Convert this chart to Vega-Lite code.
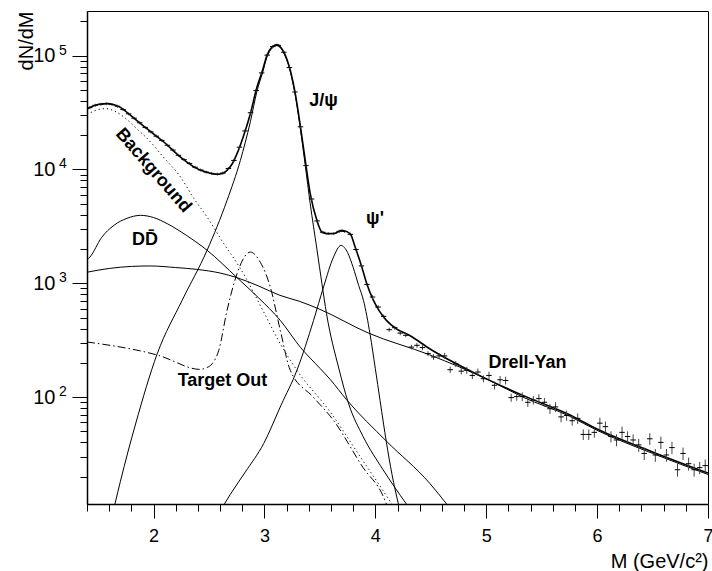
{
  "$schema": "https://vega.github.io/schema/vega-lite/v6.json",
  "width": 621,
  "height": 493,
  "autosize": "none",
  "padding": {"left": 87, "top": 11, "right": 4, "bottom": 67},
  "background": "white",
  "config": {
    "font": "Liberation Sans",
    "view": {"stroke": "black", "strokeWidth": 1},
    "axis": {"grid": false, "domainColor": "black", "domainWidth": 1.5, "tickColor": "black", "tickWidth": 1, "labelColor": "black", "titleColor": "black", "titleFontWeight": "normal", "labelOverlap": false, "labelFlush": false}
  },
  "datasets": {
    "total": [
      {"x":1.4,"y":34000},{"x":1.45,"y":35970},{"x":1.5,"y":37150},{"x":1.58,"y":37840},{"x":1.65,"y":36810},{"x":1.7,"y":35080},{"x":1.793,"y":29850},{"x":1.94,"y":22800},{"x":2.093,"y":17420},{"x":2.243,"y":12850},{"x":2.393,"y":10160},{"x":2.48,"y":9440},{"x":2.56,"y":9060},{"x":2.62,"y":9230},{"x":2.66,"y":9770},{"x":2.71,"y":11220},{"x":2.753,"y":13770},{"x":2.81,"y":19500},{"x":2.873,"y":30900},{"x":2.933,"y":53000},{"x":2.983,"y":74300},{"x":3.023,"y":100700},{"x":3.068,"y":119100},{"x":3.113,"y":125000},{"x":3.15,"y":117500},{"x":3.173,"y":108400},{"x":3.233,"y":74300},{"x":3.278,"y":46300},{"x":3.323,"y":24400},{"x":3.368,"y":12000},{"x":3.413,"y":6120},{"x":3.473,"y":3570},{"x":3.518,"y":2820},{"x":3.563,"y":2730},{"x":3.623,"y":2730},{"x":3.698,"y":2920},{"x":3.773,"y":2730},{"x":3.818,"y":2080},{"x":3.878,"y":1390},{"x":3.923,"y":990},{"x":3.983,"y":708},{"x":4.043,"y":558},{"x":4.1,"y":472},{"x":4.19,"y":398},{"x":4.31,"y":348},{"x":4.49,"y":266},{"x":4.91,"y":160},{"x":5.33,"y":103.5},{"x":5.75,"y":70},{"x":6.0,"y":52.5},{"x":6.5,"y":33},{"x":7.0,"y":21.5}
    ],
    "bg": [
      {"x":1.4,"y":30400},{"x":1.5,"y":33500},{"x":1.568,"y":34200},{"x":1.65,"y":32500},{"x":1.748,"y":28100},{"x":1.85,"y":22700},{"x":1.943,"y":18700},{"x":2.09,"y":12800},{"x":2.243,"y":8580},{"x":2.363,"y":5570},{"x":2.483,"y":3820},{"x":2.633,"y":2230},{"x":2.783,"y":1350},{"x":2.993,"y":560},{"x":3.143,"y":294},{"x":3.293,"y":172},{"x":3.593,"y":74},{"x":3.863,"y":30},{"x":4.043,"y":16.5},{"x":4.148,"y":11.5}
    ],
    "dd": [
      {"x":1.4,"y":1600},{"x":1.427,"y":1700},{"x":1.53,"y":2510},{"x":1.643,"y":3230},{"x":1.76,"y":3720},{"x":1.883,"y":3950},{"x":2.0,"y":3780},{"x":2.123,"y":3340},{"x":2.3,"y":2620},{"x":2.483,"y":1950},{"x":2.753,"y":1120},{"x":2.95,"y":740},{"x":3.143,"y":472},{"x":3.323,"y":275},{"x":3.503,"y":178},{"x":3.593,"y":143},{"x":3.74,"y":95},{"x":4.1,"y":41},{"x":4.49,"y":17.5},{"x":4.643,"y":11.5}
    ],
    "dy": [
      {"x":1.4,"y":1250},{"x":1.6,"y":1349},{"x":1.8,"y":1406},{"x":1.97,"y":1419},{"x":2.2,"y":1374},{"x":2.39,"y":1324},{"x":2.6,"y":1230},{"x":2.75,"y":1122},{"x":2.95,"y":944},{"x":3.14,"y":783},{"x":3.32,"y":692},{"x":3.5,"y":590},{"x":3.935,"y":366},{"x":4.49,"y":235},{"x":5.03,"y":140},{"x":5.33,"y":100},{"x":5.75,"y":68},{"x":6.0,"y":51},{"x":6.5,"y":32},{"x":7.0,"y":20.9}
    ],
    "jpsi": [
      {"x":1.652,"y":11.5},{"x":1.7,"y":18},{"x":1.838,"y":58},{"x":2.033,"y":240},{"x":2.258,"y":708},{"x":2.483,"y":1950},{"x":2.663,"y":5350},{"x":2.783,"y":12000},{"x":2.873,"y":26200},{"x":2.933,"y":48800},{"x":2.983,"y":70600},{"x":3.023,"y":97000},{"x":3.068,"y":116000},{"x":3.113,"y":122400},{"x":3.15,"y":115500},{"x":3.173,"y":106000},{"x":3.233,"y":72700},{"x":3.278,"y":44900},{"x":3.323,"y":23200},{"x":3.368,"y":10900},{"x":3.413,"y":5000},{"x":3.473,"y":2000},{"x":3.518,"y":1000},{"x":3.56,"y":540},{"x":3.67,"y":180},{"x":3.76,"y":87},{"x":3.89,"y":45},{"x":4.07,"y":23},{"x":4.28,"y":11.5}
    ],
    "psip": [
      {"x":2.639,"y":11.5},{"x":2.693,"y":14},{"x":2.828,"y":22},{"x":2.993,"y":39},{"x":3.15,"y":85},{"x":3.293,"y":172},{"x":3.443,"y":472},{"x":3.533,"y":927},{"x":3.623,"y":1700},{"x":3.69,"y":2150},{"x":3.75,"y":1860},{"x":3.8,"y":1380},{"x":3.85,"y":955},{"x":3.893,"y":708},{"x":3.953,"y":355},{"x":4.0,"y":178},{"x":4.043,"y":93},{"x":4.1,"y":40},{"x":4.15,"y":21},{"x":4.208,"y":11.5}
    ],
    "to": [
      {"x":1.4,"y":305},{"x":2.048,"y":232},{"x":2.423,"y":175},{"x":2.47,"y":180},{"x":2.528,"y":196},{"x":2.588,"y":257},{"x":2.663,"y":578},{"x":2.753,"y":1214},{"x":2.843,"y":1820},{"x":2.873,"y":1880},{"x":2.963,"y":1530},{"x":3.053,"y":927},{"x":3.143,"y":386},{"x":3.233,"y":172},{"x":3.44,"y":100},{"x":3.62,"y":63},{"x":3.89,"y":24},{"x":4.07,"y":13.5},{"x":4.1,"y":11.5}
    ],
    "pts": [
      {"x":1.425,"y":34900,"lo":33850,"hi":35950},{"x":1.475,"y":36600,"lo":35500,"hi":37700},{"x":1.525,"y":37400,"lo":36280,"hi":38520},{"x":1.575,"y":37800,"lo":36670,"hi":38930},{"x":1.625,"y":37200,"lo":36080,"hi":38320},{"x":1.675,"y":35900,"lo":34820,"hi":36980},{"x":1.725,"y":33600,"lo":32590,"hi":34610},{"x":1.775,"y":30800,"lo":29880,"hi":31720},{"x":1.825,"y":28200,"lo":27350,"hi":29050},{"x":1.875,"y":25700,"lo":24930,"hi":26470},{"x":1.925,"y":23400,"lo":22700,"hi":24100},{"x":1.975,"y":21400,"lo":20760,"hi":22040},{"x":2.025,"y":19600,"lo":19010,"hi":20190},{"x":2.075,"y":18000,"lo":17460,"hi":18540},{"x":2.125,"y":16300,"lo":15810,"hi":16790},{"x":2.175,"y":14800,"lo":14360,"hi":15240},{"x":2.225,"y":13300,"lo":12900,"hi":13700},{"x":2.275,"y":12200,"lo":11830,"hi":12570},{"x":2.325,"y":11300,"lo":10960,"hi":11640},{"x":2.375,"y":10450,"lo":10140,"hi":10760},{"x":2.425,"y":9890,"lo":9590,"hi":10190},{"x":2.475,"y":9480,"lo":9200,"hi":9760},{"x":2.525,"y":9230,"lo":8950,"hi":9510},{"x":2.575,"y":9100,"lo":8830,"hi":9370},{"x":2.625,"y":9290,"lo":9010,"hi":9570},{"x":2.675,"y":10200,"lo":9890,"hi":10510},{"x":2.725,"y":12000,"lo":11640,"hi":12360},{"x":2.775,"y":15700,"lo":15230,"hi":16170},{"x":2.825,"y":21800,"lo":21150,"hi":22450},{"x":2.875,"y":31500,"lo":30560,"hi":32450},{"x":2.925,"y":49300,"lo":47820,"hi":50780},{"x":2.975,"y":70500,"lo":68400,"hi":72600},{"x":3.025,"y":101000,"lo":98000,"hi":104000},{"x":3.075,"y":120000,"lo":116400,"hi":123600},{"x":3.125,"y":123000,"lo":119300,"hi":126700},{"x":3.175,"y":107000,"lo":103800,"hi":110200},{"x":3.225,"y":78500,"lo":76150,"hi":80850},{"x":3.275,"y":47900,"lo":46460,"hi":49340},{"x":3.325,"y":23700,"lo":22990,"hi":24410},{"x":3.375,"y":10800,"lo":10480,"hi":11120},{"x":3.425,"y":5500,"lo":5340,"hi":5660},{"x":3.475,"y":3530,"lo":3420,"hi":3640},{"x":3.525,"y":2810,"lo":2730,"hi":2890},{"x":3.575,"y":2730,"lo":2650,"hi":2810},{"x":3.625,"y":2735,"lo":2650,"hi":2820},{"x":3.675,"y":2860,"lo":2770,"hi":2950},{"x":3.725,"y":2850,"lo":2760,"hi":2940},{"x":3.775,"y":2690,"lo":2610,"hi":2770},{"x":3.825,"y":1980,"lo":1920,"hi":2040},{"x":3.875,"y":1420,"lo":1380,"hi":1460},{"x":3.925,"y":977,"lo":950,"hi":1005},
      {"x":3.975,"y":757,"lo":727,"hi":787},{"x":4.025,"y":618,"lo":593,"hi":643},{"x":4.075,"y":512,"lo":492,"hi":532},{"x":4.125,"y":391,"lo":375,"hi":407},{"x":4.175,"y":407,"lo":391,"hi":423},{"x":4.225,"y":365,"lo":350,"hi":380},{"x":4.275,"y":349,"lo":335,"hi":363},{"x":4.325,"y":275,"lo":262,"hi":288},{"x":4.375,"y":285,"lo":271,"hi":299},{"x":4.425,"y":272,"lo":258,"hi":286},{"x":4.475,"y":241,"lo":229,"hi":253},{"x":4.525,"y":225,"lo":212,"hi":238},{"x":4.575,"y":230,"lo":216,"hi":244},{"x":4.625,"y":230,"lo":216,"hi":244},{"x":4.675,"y":174,"lo":163,"hi":185},{"x":4.725,"y":196,"lo":184,"hi":208},{"x":4.775,"y":169,"lo":158,"hi":180},{"x":4.825,"y":172,"lo":160,"hi":184},{"x":4.875,"y":155,"lo":144,"hi":166},{"x":4.925,"y":166,"lo":154,"hi":178},{"x":4.975,"y":145,"lo":135,"hi":155},{"x":5.025,"y":155,"lo":143,"hi":167},{"x":5.075,"y":127,"lo":117,"hi":137},{"x":5.125,"y":142,"lo":131,"hi":153},{"x":5.175,"y":140,"lo":129,"hi":151},{"x":5.225,"y":99,"lo":91,"hi":107},{"x":5.275,"y":101,"lo":93,"hi":109},{"x":5.325,"y":101,"lo":92,"hi":110},{"x":5.375,"y":90,"lo":82,"hi":98},{"x":5.425,"y":94,"lo":86,"hi":102},{"x":5.475,"y":97,"lo":88,"hi":106},{"x":5.525,"y":90,"lo":82,"hi":98},{"x":5.575,"y":79,"lo":71,"hi":87},{"x":5.625,"y":82,"lo":74,"hi":90},{"x":5.675,"y":67,"lo":60,"hi":74},{"x":5.725,"y":69,"lo":62,"hi":76},{"x":5.775,"y":62,"lo":56,"hi":68},{"x":5.825,"y":65,"lo":58,"hi":72},{"x":5.875,"y":47,"lo":42,"hi":52},{"x":5.925,"y":47,"lo":42,"hi":52},{"x":5.975,"y":49,"lo":44,"hi":54},{"x":6.025,"y":59,"lo":52,"hi":66},{"x":6.075,"y":55,"lo":49,"hi":61},{"x":6.125,"y":45,"lo":40,"hi":50},{"x":6.175,"y":42,"lo":37,"hi":47},{"x":6.225,"y":49,"lo":43,"hi":55},{"x":6.275,"y":45,"lo":40,"hi":50},{"x":6.325,"y":42,"lo":37,"hi":47},{"x":6.375,"y":38,"lo":33,"hi":43},{"x":6.425,"y":32,"lo":28,"hi":36},{"x":6.475,"y":43,"lo":38,"hi":48},{"x":6.525,"y":31,"lo":27,"hi":35},{"x":6.575,"y":40,"lo":35,"hi":45},{"x":6.625,"y":31,"lo":27,"hi":35},{"x":6.675,"y":36,"lo":31.5,"hi":40.5},{"x":6.725,"y":23,"lo":20,"hi":26},{"x":6.775,"y":32,"lo":28,"hi":36},{"x":6.825,"y":26,"lo":22.6,"hi":29.4},{"x":6.875,"y":23,"lo":20,"hi":26},{"x":6.925,"y":24,"lo":21,"hi":27},{"x":6.975,"y":25,"lo":21.7,"hi":28.3}
    ],
    "boldlab": [
      {"x":3.533,"y":36000,"t":"J/ψ"},
      {"x":3.997,"y":3310,"t":"ψ'"},
      {"x":1.923,"y":2170,"t":"DD\u0304"},
      {"x":5.372,"y":180,"t":"Drell-Yan"},
      {"x":2.622,"y":125,"t":"Target Out"}
    ],
    "rotlab": [
      {"x":1.997,"y":9770,"t":"Background"}
    ],
    "exps": [
      {"x":1.4,"y":100,"e":"2"},{"x":1.4,"y":1000,"e":"3"},{"x":1.4,"y":10000,"e":"4"},{"x":1.4,"y":100000,"e":"5"}
    ]
  },
  "encoding": {
    "x": {
      "field": "x", "type": "quantitative",
      "scale": {"type": "linear", "domain": [1.4, 7], "nice": false, "zero": false},
      "axis": {
        "title": "M (GeV/c²)",
        "values": [1.4,1.6,1.8,2,2.2,2.4,2.6,2.8,3,3.2,3.4,3.6,3.8,4,4.2,4.4,4.6,4.8,5,5.2,5.4,5.6,5.8,6,6.2,6.4,6.6,6.8,7],
        "labelExpr": "datum.value % 1 == 0 ? format(datum.value, 'd') : ''",
        "tickSize": {"condition": {"test": "datum.value % 1 == 0", "value": 14}, "value": 7},
        "labelPadding": 9,
        "labelFontSize": 18,
        "titleFontSize": 20,
        "titleAnchor": "end",
        "titleAlign": "right",
        "titleBaseline": "alphabetic",
        "titleX": 621,
        "titleY": 63
      }
    },
    "y": {
      "field": "y", "type": "quantitative",
      "scale": {"type": "log", "domain": [11.5, 246600], "nice": false},
      "axis": {
        "title": "dN/dM",
        "values": [20,30,40,50,60,70,80,90,100,200,300,400,500,600,700,800,900,1000,2000,3000,4000,5000,6000,7000,8000,9000,10000,20000,30000,40000,50000,60000,70000,80000,90000,100000,200000],
        "labelExpr": "datum.value==100||datum.value==1000||datum.value==10000||datum.value==100000 ? '10' : ''",
        "tickSize": {"condition": {"test": "datum.value==100||datum.value==1000||datum.value==10000||datum.value==100000", "value": 15}, "value": 7},
        "labelPadding": 17,
        "labelFontSize": 20,
        "titleFontSize": 20,
        "titleAngle": 270,
        "titleAlign": "right",
        "titleBaseline": "alphabetic",
        "titleX": -55,
        "titleY": 0
      }
    }
  },
  "layer": [
    {"data": {"name": "bg"}, "mark": {"type": "line", "color": "black", "strokeWidth": 1, "strokeDash": [1.2, 3], "interpolate": "monotone", "clip": true}},
    {"data": {"name": "to"}, "mark": {"type": "line", "color": "black", "strokeWidth": 1, "strokeDash": [8, 3, 1.5, 3], "interpolate": "monotone", "clip": true}},
    {"data": {"name": "dd"}, "mark": {"type": "line", "color": "black", "strokeWidth": 1, "interpolate": "monotone", "clip": true}},
    {"data": {"name": "dy"}, "mark": {"type": "line", "color": "black", "strokeWidth": 1, "interpolate": "monotone", "clip": true}},
    {"data": {"name": "jpsi"}, "mark": {"type": "line", "color": "black", "strokeWidth": 1, "interpolate": "monotone", "clip": true}},
    {"data": {"name": "psip"}, "mark": {"type": "line", "color": "black", "strokeWidth": 1, "interpolate": "monotone", "clip": true}},
    {"data": {"name": "total"}, "mark": {"type": "line", "color": "black", "strokeWidth": 1.6, "interpolate": "monotone", "clip": true}},
    {
      "data": {"name": "pts"},
      "mark": {"type": "rule", "color": "#444", "strokeWidth": 1, "clip": true},
      "encoding": {
        "y": {"field": "lo", "type": "quantitative", "scale": {"type": "log", "domain": [11.5, 246600], "nice": false}},
        "y2": {"field": "hi"}
      }
    },
    {"data": {"name": "pts"}, "mark": {"type": "point", "shape": "M-1,0L1,0", "size": 30, "filled": false, "stroke": "black", "strokeWidth": 1, "opacity": 1, "clip": true}},
    {"data": {"name": "boldlab"}, "mark": {"type": "text", "fontSize": 18, "fontWeight": "bold", "align": "center", "baseline": "alphabetic", "color": "black"}, "encoding": {"text": {"field": "t"}}},
    {"data": {"name": "rotlab"}, "mark": {"type": "text", "fontSize": 18, "fontWeight": "bold", "align": "center", "baseline": "middle", "angle": 49, "color": "black"}, "encoding": {"text": {"field": "t"}}},
    {"data": {"name": "exps"}, "mark": {"type": "text", "fontSize": 14, "align": "left", "baseline": "middle", "dx": -28, "dy": -5, "color": "black", "clip": false}, "encoding": {"text": {"field": "e", "type": "nominal"}}}
  ]
}
